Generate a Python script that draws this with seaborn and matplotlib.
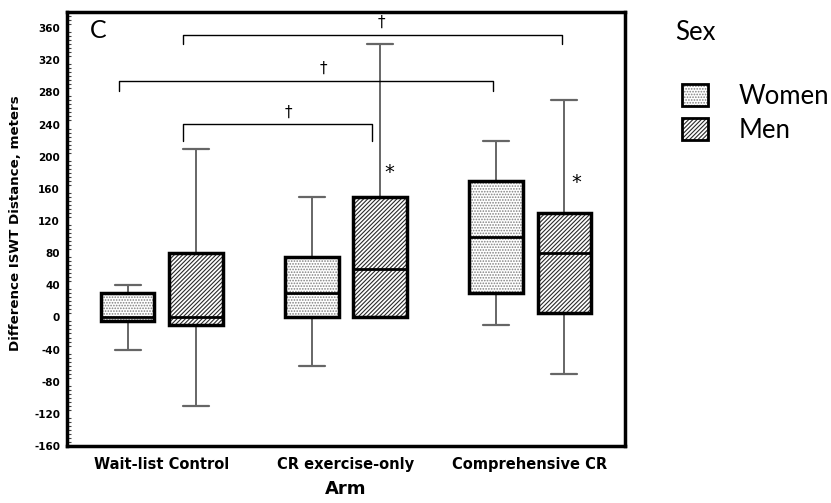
import numpy as np
import pandas as pd
import matplotlib
matplotlib.use("Agg")
import matplotlib.pyplot as plt
import seaborn as sns
from matplotlib.patches import PathPatch, Patch
from matplotlib.ticker import MultipleLocator
from matplotlib.legend_handler import HandlerTuple

# ---------------- data (five-number summaries) ----------------
arms = ["Wait-list Control", "CR exercise-only", "Comprehensive CR"]
sexes = ["Women", "Men"]

women_min = [-40, -60, -10]
women_q1 = [-5, 0, 30]
women_med = [0, 30, 100]
women_q3 = [30, 75, 170]
women_max = [40, 150, 220]

men_min = [-110, 0, -70]
men_q1 = [-10, 0, 5]
men_med = [0, 60, 80]
men_q3 = [80, 150, 130]
men_max = [210, 340, 270]

y_ticks = [-160, -120, -80, -40, 0, 40, 80, 120, 160, 200, 240, 280, 320, 360]

# significance brackets (category units / metres)
br_x0 = [0.114, -0.234, 0.114]
br_x1 = [2.174, 1.799, 1.141]
br_y = [352, 294, 241]
br_low = [340, 282, 220]
dag_x = [1.19, 0.875, 0.685]
dag_y = [367, 310, 255]
star_x = [1.234, 2.25]
star_y = [180, 168]

# ---------------- build long table ----------------
rows = []
for i, arm in enumerate(arms):
    for sex, stats in (("Women", (women_min, women_q1, women_med, women_q3, women_max)),
                       ("Men", (men_min, men_q1, men_med, men_q3, men_max))):
        for s in stats:
            rows.append({"Arm": arm, "Sex": sex, "Distance": s[i]})
df = pd.DataFrame(rows)

sns.set_style("white")
plt.rcParams["font.family"] = ["DejaVu Sans"]
plt.rcParams["hatch.linewidth"] = 0.8
plt.rcParams["axes.unicode_minus"] = False
for k in ("text.color", "axes.labelcolor", "xtick.color", "ytick.color"):
    plt.rcParams[k] = "black"

fig = plt.figure(figsize=(8.31, 5.03), dpi=100)
ax = fig.add_axes([67 / 831, 57 / 503, 558 / 831, 434 / 503])

sns.boxplot(data=df, x="Arm", y="Distance", hue="Sex", order=arms, hue_order=sexes,
            palette={"Women": "white", "Men": "white"}, whis=(0, 100),
            width=0.74, gap=0.22, linecolor="black", linewidth=2.2,
            showfliers=False, legend=False, ax=ax,
            whiskerprops=dict(color="#666666", linewidth=1.4),
            capprops=dict(color="#666666", linewidth=1.6),
            medianprops=dict(color="black", linewidth=2.0))

WOMEN_HATCH, WOMEN_HC = "......", "#808080"
MEN_HATCH, MEN_HC = "////////", "#2a2a2a"

for p in list(ax.patches):
    ext = p.get_path().get_extents()
    cx = (ext.x0 + ext.x1) / 2
    is_men = cx > round(cx)
    p.set_hatch(MEN_HATCH if is_men else WOMEN_HATCH)
    p.set_edgecolor(MEN_HC if is_men else WOMEN_HC)
    p.set_facecolor("white")
    p.set_linewidth(0)
    outline = PathPatch(p.get_path(), transform=p.get_transform(), fill=False,
                        edgecolor="black", linewidth=2.5, zorder=p.get_zorder() + 0.1)
    ax.add_patch(outline)

# brackets & markers
for x0, x1, y, lo in zip(br_x0, br_x1, br_y, br_low):
    ax.plot([x0, x0, x1, x1], [lo, y, y, lo], color="black", lw=1.0)
for x, y in zip(dag_x, dag_y):
    ax.text(x, y, "\u2020", ha="center", va="center", fontsize=11)
for x, y in zip(star_x, star_y):
    ax.text(x, y, "*", ha="center", va="center", fontsize=14)

ax.text(-0.39, 357, "C", family=["Lato", "DejaVu Sans"], fontsize=18, ha="left", va="center")

# axes styling
ax.set_xlim(-0.516, 2.516)
ax.set_ylim(-160, 380)
ax.set_yticks(y_ticks)
ax.yaxis.set_minor_locator(MultipleLocator(5))
ax.tick_params(axis="y", which="major", direction="out", length=4, width=1, labelsize=7.5, pad=1)
ax.tick_params(axis="y", which="minor", direction="in", length=3, width=0.8, color="#444444", left=True)
ax.tick_params(axis="x", which="major", direction="out", length=5, width=1, labelsize=10.5, pad=3)
for lab in ax.get_yticklabels() + ax.get_xticklabels():
    lab.set_fontweight("bold")
for s in ax.spines.values():
    s.set_visible(True)
    s.set_color("black")
    s.set_linewidth(2.5)

ax.set_ylabel("Difference ISWT Distance, meters", fontsize=9.6, fontweight="bold")
ax.yaxis.set_label_coords(-0.081, 0.514)
ax.set_xlabel("Arm", fontsize=13, fontweight="bold", labelpad=6)

# legend
h_w = (Patch(facecolor="white", edgecolor=WOMEN_HC, hatch=WOMEN_HATCH, lw=0),
       Patch(fill=False, edgecolor="black", lw=2))
h_m = (Patch(facecolor="white", edgecolor=MEN_HC, hatch=MEN_HATCH, lw=0),
       Patch(fill=False, edgecolor="black", lw=2))
fig.legend(handles=[h_w, h_m], labels=sexes,
           handler_map={tuple: HandlerTuple(ndivide=1, pad=0)},
           loc="upper left", bbox_to_anchor=(682 / 831, 1 - 84 / 503),
           frameon=False, prop=dict(family="Lato", size=18.5),
           handlelength=1.0, handleheight=0.9, handletextpad=1.2,
           labelspacing=0.35, borderaxespad=0, borderpad=0)
fig.text(675 / 831, 1 - 32 / 503, "Sex", family="Lato", fontsize=18.5, va="center", ha="left")

fig.savefig("out.png", dpi=100)
